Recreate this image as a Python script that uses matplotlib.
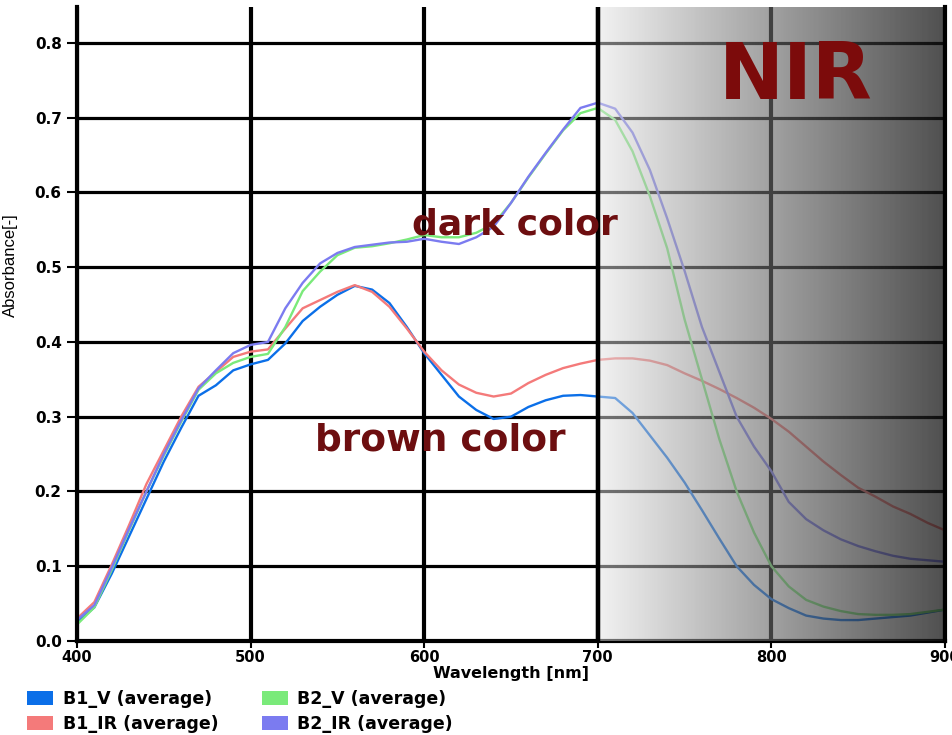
import numpy as np
import matplotlib
matplotlib.use("Agg")
import matplotlib.pyplot as plt
from matplotlib.patches import Patch

# ---------------- data ----------------
wavelength = list(range(400, 901, 10))

b1_v = [0.025, 0.045, 0.090, 0.140, 0.190, 0.240, 0.285, 0.328, 0.342, 0.362,
        0.370, 0.376, 0.398, 0.428, 0.447, 0.463, 0.475, 0.470, 0.452, 0.420,
        0.385, 0.356, 0.327, 0.309, 0.297, 0.300, 0.313, 0.322, 0.328, 0.329,
        0.327, 0.325, 0.305, 0.275, 0.245, 0.212, 0.175, 0.137, 0.100, 0.075,
        0.056, 0.044, 0.034, 0.030, 0.028, 0.028, 0.030, 0.032, 0.034, 0.038,
        0.042]

b1_ir = [0.030, 0.052, 0.102, 0.155, 0.210, 0.255, 0.300, 0.340, 0.360, 0.380,
         0.387, 0.390, 0.418, 0.445, 0.456, 0.467, 0.476, 0.467, 0.447, 0.418,
         0.387, 0.362, 0.343, 0.332, 0.327, 0.331, 0.345, 0.356, 0.365, 0.371,
         0.376, 0.378, 0.378, 0.375, 0.369, 0.358, 0.348, 0.337, 0.325, 0.312,
         0.297, 0.280, 0.260, 0.240, 0.222, 0.205, 0.193, 0.180, 0.170, 0.158,
         0.148]

b2_v = [0.022, 0.045, 0.095, 0.148, 0.200, 0.248, 0.293, 0.336, 0.358, 0.372,
        0.380, 0.384, 0.420, 0.468, 0.494, 0.516, 0.526, 0.528, 0.532, 0.537,
        0.543, 0.540, 0.540, 0.546, 0.558, 0.586, 0.620, 0.652, 0.683, 0.706,
        0.713, 0.697, 0.655, 0.595, 0.525, 0.430, 0.350, 0.270, 0.200, 0.145,
        0.100, 0.073, 0.055, 0.046, 0.040, 0.036, 0.035, 0.035, 0.036, 0.039,
        0.042]

b2_ir = [0.028, 0.048, 0.098, 0.150, 0.200, 0.250, 0.295, 0.338, 0.362, 0.385,
         0.396, 0.400, 0.445, 0.479, 0.505, 0.519, 0.527, 0.530, 0.533, 0.534,
         0.538, 0.534, 0.531, 0.540, 0.554, 0.586, 0.621, 0.653, 0.684, 0.713,
         0.720, 0.712, 0.680, 0.630, 0.565, 0.495, 0.420, 0.360, 0.300, 0.260,
         0.227, 0.186, 0.163, 0.148, 0.136, 0.127, 0.120, 0.114, 0.110, 0.108,
         0.106]

series_labels = ["B1_V (average)", "B1_IR (average)", "B2_V (average)", "B2_IR (average)"]
series_colors = ["#0b6fe8", "#f47a7a", "#7aea7a", "#7b7bf0"]

x_ticks = [400, 500, 600, 700, 800, 900]
y_ticks = [0.0, 0.1, 0.2, 0.3, 0.4, 0.5, 0.6, 0.7, 0.8]
nir_range = (700, 900)

# ---------------- figure ----------------
W, H = 953, 735
fig = plt.figure(figsize=(W / 100, H / 100), dpi=100)
ax = fig.add_axes([77 / W, 1 - 641 / H, (945 - 77) / W, (641 - 7) / H])

ymax = 0.848
for vals, col in zip([b1_v, b1_ir, b2_v, b2_ir], series_colors):
    ax.plot(wavelength, vals, color=col, lw=1.7, zorder=2, solid_joinstyle="round")

# NIR gradient overlay (semi-transparent, on top of the curves)
n = 256
t = np.linspace(0, 1, n)
target = 0.95 - 0.64 * t
alpha = 0.5 + 0.25 * t
g = (target - (1 - alpha)) / alpha
img = np.zeros((1, n, 4))
img[0, :, 0] = g
img[0, :, 1] = g
img[0, :, 2] = g
img[0, :, 3] = alpha
ax.imshow(img, extent=(nir_range[0], nir_range[1], 0, ymax), aspect="auto",
          zorder=3, interpolation="bilinear")
ax.axvline(nir_range[0], color="black", lw=3.2, zorder=4)

ax.set_xlim(400, 900)
ax.set_ylim(0, ymax)
ax.set_xticks(x_ticks)
ax.set_yticks(y_ticks)
ax.set_yticklabels([f"{v:.1f}" for v in y_ticks])

ax.set_axisbelow(True)
ax.xaxis.grid(True, color="black", lw=3.0)
ax.yaxis.grid(True, color="black", lw=2.3)

for s in ["left", "bottom"]:
    ax.spines[s].set_linewidth(3)
    ax.spines[s].set_color("black")
ax.spines["right"].set_linewidth(3)
ax.spines["right"].set_zorder(5)
ax.spines["top"].set_visible(False)

ax.tick_params(axis="y", length=7, width=1.5, pad=4, labelsize=11)
ax.tick_params(axis="x", length=5, width=1.5, pad=1.5, labelsize=10.5)
for lab in ax.get_xticklabels() + ax.get_yticklabels():
    lab.set_fontweight("bold")
    lab.set_family("DejaVu Sans")

ax.set_xlabel("Wavelength [nm]", fontsize=11.5, fontweight="bold", family="DejaVu Sans")
ax.xaxis.set_label_coords(0.5, -0.040)
ax.set_ylabel("Absorbance[-]", fontsize=12, family=["Liberation Sans", "DejaVu Sans"])
ax.yaxis.set_label_coords(-0.068, 0.593)

# annotations
maroon = "#6d0e10"
ax.text(813.8, 0.755, "NIR", fontsize=56, fontweight="bold", color="#7c0b0b",
        ha="center", va="center", zorder=6, family="DejaVu Sans")
ax.text(652.4, 0.5565, "dark color", fontsize=26, fontweight="bold", color=maroon,
        ha="center", va="center", zorder=6, family="DejaVu Sans")
ax.text(609.2, 0.2676, "brown color", fontsize=27, fontweight="bold", color=maroon,
        ha="center", va="center", zorder=6, family="DejaVu Sans")

handles = [Patch(facecolor=c, edgecolor="none") for c in series_colors]
leg = fig.legend(handles, series_labels, loc="upper left",
                 bbox_to_anchor=(27 / W, 1 - 690 / H), ncol=2, frameon=False,
                 prop={"size": 12.5, "weight": "bold", "family": "DejaVu Sans"},
                 handlelength=1.5, handleheight=0.8, handletextpad=0.55,
                 columnspacing=2.5, labelspacing=0.4, borderaxespad=0, borderpad=0)

fig.savefig("out.png", dpi=100)
